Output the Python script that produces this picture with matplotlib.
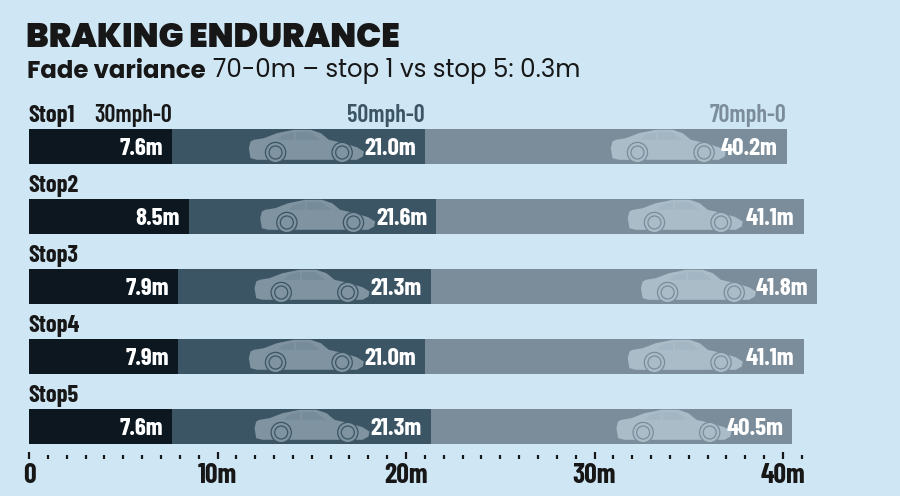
import matplotlib
matplotlib.use("Agg")
import matplotlib.pyplot as plt
from matplotlib.colors import to_rgb
from matplotlib.patches import Polygon, Ellipse
from matplotlib.ticker import FixedLocator

# data: cumulative stopping distance (m) per stop
stops = ["Stop1", "Stop2", "Stop3", "Stop4", "Stop5"]
speeds = ["30mph-0", "50mph-0", "70mph-0"]
d30 = [7.6, 8.5, 7.9, 7.9, 7.6]
d50 = [21.0, 21.6, 21.3, 21.0, 21.3]
d70 = [40.2, 41.1, 41.8, 41.1, 40.5]
tick_vals = [0, 10, 20, 30, 40]
tick_labels = ["0", "10m", "20m", "30m", "40m"]

BG = "#cfe6f4"
SEG = ["#0c1720", "#3c5565", "#7b8d9b"]
CAR = [None, "#7f93a1", "#a9bcc8"]
DARK = "#171717"

COND = ["Barlow Condensed", "Roboto Condensed", "DejaVu Sans"]
HEAVY = ["Poppins", "Inter", "DejaVu Sans"]

W, H = 900, 496
PX_PER_M = 18.85
X0 = 29
ROW0, ROWSTEP = 146, 70
AX_BOTTOM = 459

fig = plt.figure(figsize=(W / 100, H / 100), dpi=100, facecolor=BG)
ax = fig.add_axes([X0 / W, (H - AX_BOTTOM) / H, (W - X0 - 30) / W, AX_BOTTOM / H])
ax.set_facecolor(BG)
ax.set_xlim(0, (W - X0 - 30) / PX_PER_M)
ax.set_ylim((AX_BOTTOM - ROW0) / ROWSTEP, -ROW0 / ROWSTEP)
for s in ax.spines.values():
    s.set_visible(False)

bar_h = 35 / ROWSTEP
mx = 1 / PX_PER_M   # one pixel in x data units
my = 1 / ROWSTEP    # one pixel in y data units

# car silhouette in pixels (x right, y up), about 115 x 33
CAR_W = 115
car_body = [(1.7, 4.3), (0, 14.3), (1.7, 21), (5, 22.7), (15, 24.3), (28, 29.3),
            (45, 32.7), (62, 32.7), (72, 29.3), (80, 22.7), (95, 19.3), (108, 15.3),
            (115, 11), (114, 6), (108, 2.7), (8, 2.7)]
car_win = [(29, 22.7), (34, 27.5), (45, 30.3), (61, 30.3), (71, 22.7)]
wheels = [26.7, 93.3]


def draw_car(xr, ybot, body_col, bg_col):
    xl = xr - CAR_W * mx
    to = lambda p: (xl + p[0] * mx, ybot - p[1] * my)
    ax.add_patch(Polygon([to(p) for p in car_body], closed=True, fc=body_col, ec="none", zorder=3))
    wc = tuple(0.88 * a + 0.12 * b for a, b in zip(to_rgb(body_col), to_rgb(bg_col)))
    ax.add_patch(Polygon([to(p) for p in car_win], closed=True, fc=wc, ec="none", zorder=3.5))
    ax.plot(*zip(to((46, 22.7)), to((46, 30.3))), color=body_col, lw=1.3, zorder=3.6)
    for wx in wheels:
        c = to((wx, 10))
        ax.add_patch(Ellipse(c, 21.5 * mx, 21.5 * my, fc=bg_col, ec="none", zorder=4))
        ax.add_patch(Ellipse(c, 19 * mx, 19 * my, fc=body_col, ec="none", zorder=4.5))
        ax.add_patch(Ellipse(c, 13 * mx, 13 * my, fc="none", ec=bg_col, lw=0.9, zorder=5))


for i, name in enumerate(stops):
    ends = [d30[i], d50[i], d70[i]]
    starts = [0] + ends[:-1]
    top = i - bar_h / 2
    for k in range(3):
        ax.barh(i, ends[k] - starts[k], left=starts[k], height=bar_h,
                color=SEG[k], edgecolor="none", zorder=2)
        if k > 0:
            draw_car(ends[k] - 61 * mx, i + bar_h / 2 - 1 * my, CAR[k], SEG[k])
        ax.text(ends[k] - 9 * mx, i + 9 * my, f"{ends[k]:.1f}m", family=COND,
                weight="bold", fontsize=18, color="white", ha="right",
                va="baseline", zorder=6)
    ax.text(-1 * mx, top - 6.6 * my, name, family=COND, weight="bold",
            fontsize=17.5, color=DARK, ha="left", va="baseline")

# speed headers above the first bar
for k, sp in enumerate(speeds):
    end = [d30[0], d50[0], d70[0]][k]
    col = DARK if k == 0 else SEG[k]
    ax.text(end, -bar_h / 2 - 6.6 * my, sp, family=COND, weight=600,
            fontsize=17.5, color=col, ha="right", va="baseline")

# distance scale
ax.xaxis.set_major_locator(FixedLocator(tick_vals))
ax.set_xticklabels(tick_labels)
ax.xaxis.set_minor_locator(FixedLocator(list(range(0, 42))))
ax.tick_params(axis="x", which="major", direction="in", length=5, width=1.6,
               color=DARK, pad=3, labelsize=20)
ax.tick_params(axis="x", which="minor", direction="in", length=3, width=1.6, color=DARK)
for t in ax.get_xticklabels():
    t.set_family(COND)
    t.set_weight("bold")
    t.set_color(DARK)
ax.set_yticks([])

# titles
fig.text(26 / W, 1 - 47.3 / H, "BRAKING ENDURANCE", family=HEAVY, weight=900,
         fontsize=24, color=DARK, ha="left", va="baseline")
t1 = fig.text(27 / W, 1 - 77.5 / H, "Fade variance", family=HEAVY, weight=700,
              fontsize=17.6, color=DARK, ha="left", va="baseline")
fig.canvas.draw()
bb = t1.get_window_extent()
fig.text((bb.x1 + 7) / W, 1 - 77.5 / H, "70-0m \u2013 stop 1 vs stop 5: 0.3m", family=HEAVY,
         weight=400, fontsize=17.6, color=DARK, ha="left", va="baseline")

fig.savefig("out.png", dpi=100, facecolor=BG)
